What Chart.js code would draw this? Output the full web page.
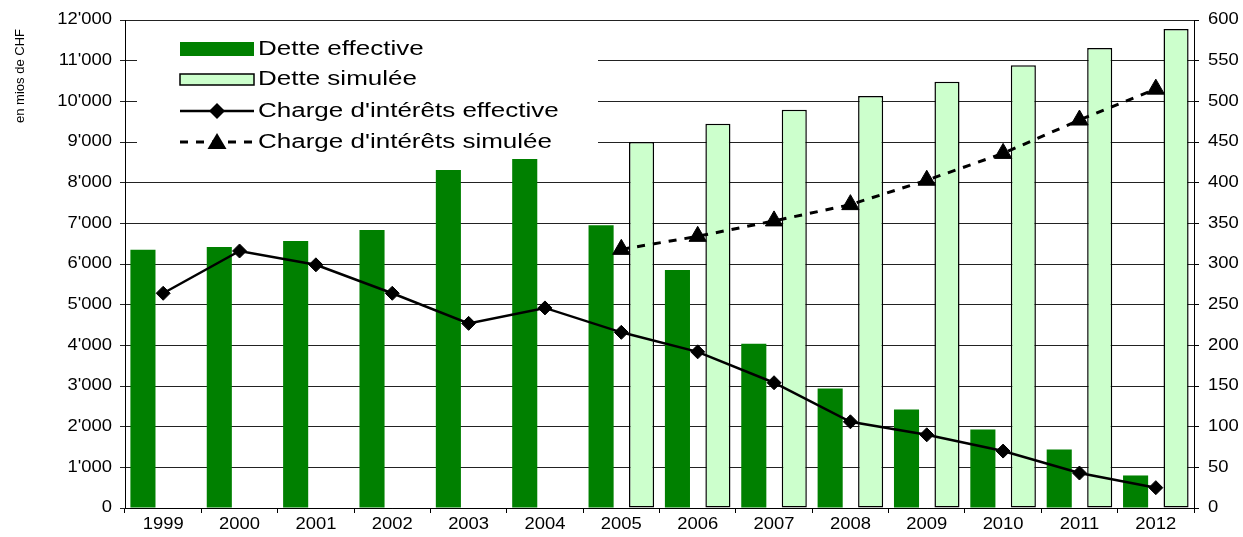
<!DOCTYPE html>
<html><head><meta charset="utf-8">
<script src="https://cdn.jsdelivr.net/npm/chart.js@4/dist/chart.umd.min.js"></script>
<style>html,body{margin:0;padding:0;background:#fff;overflow:hidden}canvas{display:block}</style>
</head><body>
<canvas id="c" width="1243" height="537"></canvas>
<script>
const categories = ['1999','2000','2001','2002','2003','2004','2005','2006','2007','2008','2009','2010','2011','2012'];
const detteEffective = [6350, 6420, 6565, 6835, 8310, 8580, 6955, 5850, 4040, 2940, 2420, 1930, 1440, 800];
const detteSimulee = [null, null, null, null, null, null, 9000, 9450, 9790, 10130, 10480, 10890, 11310, 11780];
const chargeEffective = [264, 316, 299, 264, 227, 246, 216, 192, 154, 106, 90, 70, 43, 25];
const chargeSimulee = [null, null, null, null, null, null, 318, 334, 353, 373, 403, 436, 477, 515];
const leftTickLabels = ['0',"1'000","2'000","3'000","4'000","5'000","6'000","7'000","8'000","9'000","10'000","11'000","12'000"];
const rightTickLabels = ['0','50','100','150','200','250','300','350','400','450','500','550','600'];
const axisTitle = 'en mios de CHF';

const FONT = '"Liberation Sans", Arial, sans-serif';
const GREEN = '#008000';
const LIGHT = '#ccffcc';

function txt(ctx, s, x, y, align, size, sx) {
  ctx.save();
  ctx.translate(x, y);
  ctx.scale(sx, 1);
  ctx.font = size + 'px ' + FONT;
  ctx.textAlign = align;
  ctx.textBaseline = 'middle';
  ctx.fillStyle = '#000';
  ctx.fillText(s, 0, 0);
  ctx.restore();
}

const customText = {
  id: 'customText',
  beforeDatasetsDraw(chart) {
    const ctx = chart.ctx;
    ctx.save();
    ctx.fillStyle = '#fff';
    ctx.fillRect(137, 24, 461, 136);
    ctx.restore();
  },
  afterDraw(chart) {
    const ctx = chart.ctx;
    const ys = chart.scales.y, y1 = chart.scales.y1, xs = chart.scales.x;
    ys.ticks.forEach((t, i) => txt(ctx, leftTickLabels[i], 112, ys.getPixelForValue(t.value), 'right', 16, 1.15));
    y1.ticks.forEach((t, i) => txt(ctx, rightTickLabels[i], 1208, y1.getPixelForValue(t.value), 'left', 16, 1.15));
    categories.forEach((c, i) => txt(ctx, c, xs.getPixelForValue(i), 525, 'center', 16, 1.15));
    // axis title
    ctx.save();
    ctx.translate(20, 76);
    ctx.rotate(-Math.PI / 2);
    ctx.font = '13px ' + FONT;
    ctx.textAlign = 'center';
    ctx.textBaseline = 'middle';
    ctx.fillStyle = '#000';
    ctx.fillText(axisTitle, 0, 0);
    ctx.restore();
    // legend
    const ds = chart.data.datasets;
    const rows = [49, 79, 111, 142];
    const x0 = 180, x1 = 254, tx = 258;
    ctx.save();
    // row 1
    ctx.fillStyle = ds[0].backgroundColor;
    ctx.fillRect(x0, rows[0] - 7, x1 - x0, 14);
    // row 2
    ctx.fillStyle = ds[1].backgroundColor;
    ctx.fillRect(x0, rows[1] - 5, x1 - x0, 11);
    ctx.strokeStyle = '#000'; ctx.lineWidth = 1.5;
    ctx.strokeRect(x0, rows[1] - 5, x1 - x0, 11);
    // row 3
    ctx.beginPath(); ctx.moveTo(x0, rows[2]); ctx.lineTo(x1, rows[2]);
    ctx.lineWidth = 2.5; ctx.strokeStyle = '#000'; ctx.stroke();
    const cx = (x0 + x1) / 2;
    ctx.beginPath();
    ctx.moveTo(cx - 8, rows[2]); ctx.lineTo(cx, rows[2] - 8); ctx.lineTo(cx + 8, rows[2]); ctx.lineTo(cx, rows[2] + 8); ctx.closePath();
    ctx.fillStyle = '#000'; ctx.fill();
    // row 4
    ctx.beginPath(); ctx.setLineDash([8, 8]); ctx.lineWidth = 3;
    ctx.moveTo(x0, rows[3]); ctx.lineTo(x1, rows[3]); ctx.stroke();
    ctx.setLineDash([]);
    ctx.beginPath();
    ctx.moveTo(cx, rows[3] - 9); ctx.lineTo(cx + 9.5, rows[3] + 7); ctx.lineTo(cx - 9.5, rows[3] + 7); ctx.closePath();
    ctx.fill();
    ctx.restore();
    ds.forEach((d, i) => txt(ctx, d.label, tx, rows[i], 'left', 20, 1.3));
  }
};

new Chart(document.getElementById('c'), {
  type: 'bar',
  data: {
    labels: categories,
    datasets: [
      { type: 'bar', label: 'Dette effective', data: detteEffective, yAxisID: 'y', backgroundColor: GREEN, borderWidth: 0, categoryPercentage: 1.06, barPercentage: 0.62, order: 2 },
      { type: 'bar', label: 'Dette simulée', data: detteSimulee, yAxisID: 'y', backgroundColor: LIGHT, borderColor: '#000', borderWidth: 1.5, borderSkipped: false, categoryPercentage: 1.06, barPercentage: 0.62, order: 2 },
      { type: 'line', label: "Charge d'intérêts effective", data: chargeEffective, yAxisID: 'y1', borderColor: '#000', borderWidth: 2.5, pointStyle: 'rectRot', pointRadius: 7, pointBackgroundColor: '#000', pointBorderColor: '#000', pointBorderWidth: 1, tension: 0, order: 1 },
      { type: 'line', label: "Charge d'intérêts simulée", data: chargeSimulee, yAxisID: 'y1', borderColor: '#000', borderWidth: 3, borderDash: [8, 8], pointStyle: 'triangle', pointRadius: 10, pointBackgroundColor: '#000', pointBorderColor: '#000', pointBorderWidth: 1, tension: 0, order: 1 }
    ]
  },
  options: {
    responsive: false,
    animation: false,
    layout: { padding: { top: 20, left: 0, right: 0, bottom: 0 } },
    plugins: { legend: { display: false }, tooltip: { enabled: false } },
    scales: {
      x: {
        type: 'category', offset: true,
        grid: { offset: true, drawOnChartArea: false, drawTicks: true, tickLength: 5, color: '#000' },
        border: { color: '#000', width: 1 },
        ticks: { display: false },
        afterFit: s => { s.height = 29; }
      },
      y: {
        position: 'left', min: 0, max: 12000,
        ticks: { display: false, stepSize: 1000 },
        grid: { color: '#222', lineWidth: 1, tickLength: 5 },
        border: { color: '#000', width: 1 },
        afterFit: s => { s.width = 125; }
      },
      y1: {
        position: 'right', min: 0, max: 600,
        ticks: { display: false, stepSize: 50 },
        grid: { drawOnChartArea: false, tickLength: 5, color: '#000' },
        border: { color: '#000', width: 1 },
        afterFit: s => { s.width = 49; }
      }
    }
  },
  plugins: [customText]
});
</script>
</body></html>
